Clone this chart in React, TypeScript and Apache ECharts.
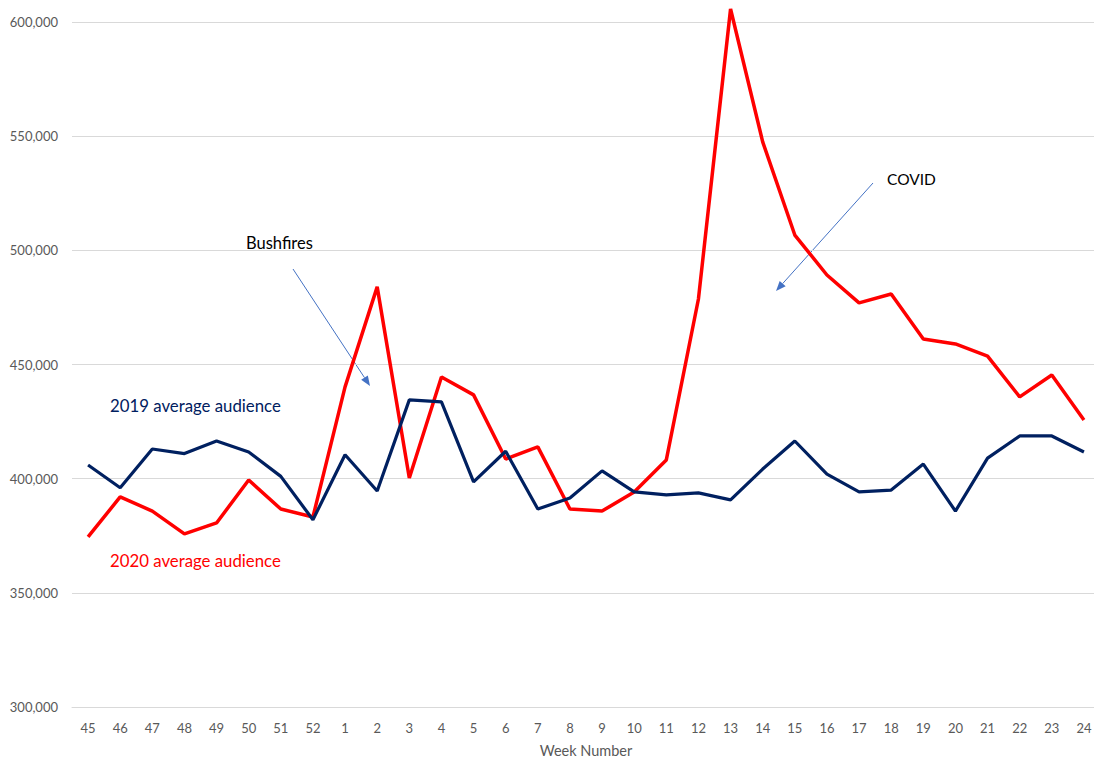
import React, { useEffect, useRef } from "react";
import * as echarts from "echarts";

const weeks = ["45","46","47","48","49","50","51","52","1","2","3","4","5","6","7","8","9","10","11","12","13","14","15","16","17","18","19","20","21","22","23","24"];
const avg2019 = [406000,396000,413000,411000,416500,411700,401000,382000,410500,394600,434500,433600,398600,412000,386700,391500,403400,394200,392900,393800,390700,404200,416500,402000,394200,395000,406400,385800,409000,418700,418700,411700];
const avg2020 = [374500,392000,385800,375800,380600,399400,386700,383200,440200,484000,400300,444500,436700,408600,413900,386700,385800,394200,408200,478700,605700,547500,506700,489200,477000,480900,461200,459000,453700,435800,445400,425700];
const yTicks = [300000, 350000, 400000, 450000, 500000, 550000, 600000];

function arrow(x1: number, y1: number, x2: number, y2: number, color: string) {
  const dx = x2 - x1, dy = y2 - y1;
  const len = Math.sqrt(dx * dx + dy * dy);
  const ux = dx / len, uy = dy / len;
  const hl = 10, hw = 4;
  const bx = x2 - ux * hl, by = y2 - uy * hl;
  const nx = -uy * hw, ny = ux * hw;
  return [
    { type: "line", shape: { x1, y1, x2: bx, y2: by }, style: { stroke: color, lineWidth: 1 } },
    { type: "polygon", shape: { points: [[x2, y2], [bx + nx, by + ny], [bx - nx, by - ny]] }, style: { fill: color } },
  ];
}

export default function App() {
  const ref = useRef<HTMLDivElement>(null);
  useEffect(() => {
    if (!ref.current) return;
    const chart = echarts.init(ref.current, null, { renderer: "svg" });
    const font = "Lato, 'Open Sans', sans-serif";
    chart.setOption({
      animation: false,
      backgroundColor: "#ffffff",
      textStyle: { fontFamily: font },
      grid: { left: 72, right: -6, top: 22, bottom: 51, outerBoundsMode: "none", containLabel: false },
      xAxis: {
        type: "category",
        data: weeks,
        boundaryGap: true,
        axisLine: { show: true, lineStyle: { color: "#d9d9d9", width: 1 } },
        axisTick: { show: false },
        axisLabel: { color: "#595959", fontSize: 13, margin: 14, fontFamily: font, interval: 0 },
        name: "Week Number",
        nameLocation: "middle",
        nameGap: 36,
        nameTextStyle: { color: "#595959", fontSize: 14.5, fontFamily: font },
      },
      yAxis: {
        type: "value",
        min: yTicks[0],
        max: yTicks[yTicks.length - 1],
        interval: 50000,
        axisLine: { show: false },
        axisTick: { show: false },
        splitLine: { lineStyle: { color: "#d9d9d9", width: 1 } },
        axisLabel: {
          color: "#595959",
          fontSize: 13,
          margin: 14,
          fontFamily: font,
          formatter: (v: number) => v.toLocaleString("en-US"),
        },
      },
      series: [
        {
          name: "2019 average audience",
          type: "line",
          data: avg2019,
          symbol: "none",
          clip: false,
          lineStyle: { color: "#002060", width: 3.2 },
          itemStyle: { color: "#002060" },
          z: 3,
        },
        {
          name: "2020 average audience",
          type: "line",
          data: avg2020,
          symbol: "none",
          clip: false,
          lineStyle: { color: "#ff0000", width: 3.5 },
          itemStyle: { color: "#ff0000" },
          z: 2,
        },
      ],
      graphic: [
        { type: "text", left: 110, top: 397, style: { text: "2019 average audience", fill: "#002060", fontSize: 16.8, fontFamily: font } },
        { type: "text", left: 110, top: 552, style: { text: "2020 average audience", fill: "#ff0000", fontSize: 16.8, fontFamily: font } },
        { type: "text", left: 246, top: 234, style: { text: "Bushfires", fill: "#000000", fontSize: 16.5, fontFamily: font } },
        { type: "text", left: 887, top: 171, style: { text: "COVID", fill: "#000000", fontSize: 15.5, fontFamily: font } },
        ...arrow(293, 269, 370, 386, "#4472c4"),
        ...arrow(873, 183, 776, 291, "#4472c4"),
      ],
    });
    return () => chart.dispose();
  }, []);
  return <div ref={ref} style={{ position: "fixed", left: 0, top: 0, width: 1094, height: 758 }} />;
}
